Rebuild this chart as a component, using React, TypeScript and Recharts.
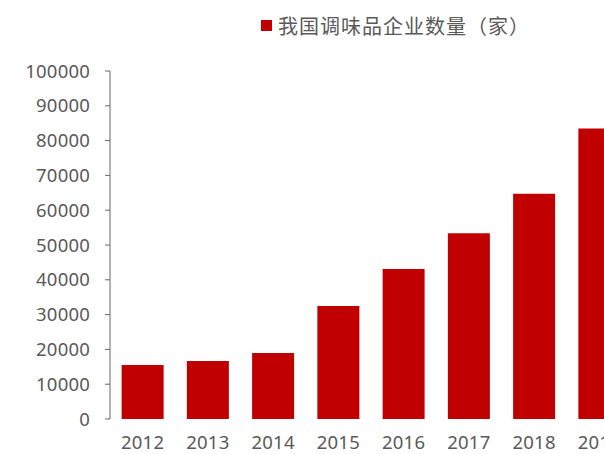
import React from 'react'
import { BarChart, Bar, XAxis, YAxis } from 'recharts'

const years = ['2012', '2013', '2014', '2015', '2016', '2017', '2018', '2019']
const companies = [15500, 16700, 19000, 32500, 43100, 53400, 64700, 83500]
const yTicks = [0, 10000, 20000, 30000, 40000, 50000, 60000, 70000, 80000, 90000, 100000]
const seriesName = '我国调味品企业数量（家）'

const data = years.map((year, i) => ({ year, value: companies[i] }))

const tickStyle = {
  fill: '#595959',
  fontSize: 18.5,
  fontFamily: '"Noto Sans", sans-serif',
  letterSpacing: 0.2,
}

export default function App() {
  return (
    <div
      style={{
        position: 'absolute',
        left: 0,
        top: 0,
        width: 604,
        height: 454,
        overflow: 'hidden',
        background: '#fff',
      }}
    >
      <div
        style={{
          position: 'absolute',
          left: 261,
          top: 11,
          display: 'flex',
          alignItems: 'center',
          fontFamily: '"Noto Sans CJK SC", sans-serif',
          fontSize: 20,
          letterSpacing: 1,
          color: '#595959',
          whiteSpace: 'nowrap',
        }}
      >
        <span style={{ display: 'inline-block', width: 11, height: 11, background: '#C00000', marginRight: 6 }} />
        {seriesName}
      </div>
      <BarChart
        width={640}
        height={454}
        data={data}
        margin={{ top: 71, right: 8, left: 0, bottom: 0 }}
        barCategoryGap="17.8%"
      >
        <XAxis
          dataKey="year"
          axisLine={false}
          tickLine={false}
          tickSize={0}
          tickMargin={17}
          height={35}
          tick={tickStyle}
          interval={0}
        />
        <YAxis
          width={110}
          domain={[0, 100000]}
          ticks={yTicks}
          interval={0}
          axisLine={{ stroke: '#666' }}
          tickLine={{ stroke: '#666' }}
          tickSize={5}
          tickMargin={15}
          tick={tickStyle}
        />
        <Bar dataKey="value" fill="#C00000" isAnimationActive={false} />
      </BarChart>
    </div>
  )
}
